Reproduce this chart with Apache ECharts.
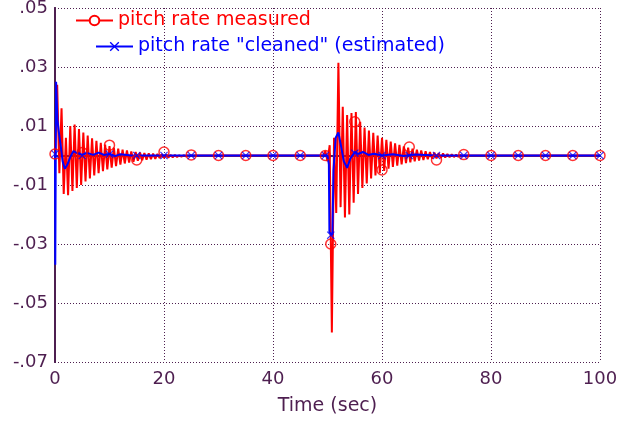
<!DOCTYPE html>
<html>
<head>
<meta charset="utf-8">
<title>pitch rate</title>
<script src="https://cdn.jsdelivr.net/npm/echarts@6/dist/echarts.min.js"></script>
<style>
  html, body { margin: 0; padding: 0; background: #fff; }
  #chart { width: 618px; height: 421px; }
</style>
</head>
<body>
<div id="chart"></div>
<script>
  const dt = 0.4;
  const measuredStart1 = 0;
  const measured1 = [
    0, 0.024, -0.006, 0.016, -0.013, 0.006, -0.0135, 0.010, -0.012, 0.0105,
    -0.011, 0.009, -0.010, 0.0078, -0.0088, 0.0068, -0.0078, 0.0058, -0.0068, 0.005,
    -0.006, 0.0043, -0.0053, 0.0037, -0.0047, 0.0032, -0.0041, 0.0027, -0.0036, 0.0023,
    -0.0031, 0.002, -0.0027, 0.0017, -0.0024, 0.0014, -0.0021, 0.0012, -0.0018, 0.001,
    -0.0016, 0.0008, -0.0014, 0.0007, -0.0012, 0.0006, -0.0011, 0.0005, -0.0009, 0.0004,
    -0.0008, 0.0003, -0.0007, 0.0002, -0.0006, 0.0002, -0.0005, 0.0001, -0.0004, 0.0001,
    -0.0003, 0
  ];
  const measuredStart2 = 49.2;
  const measured2 = [
    0, 0.0015, -0.002, 0.0035, -0.060, 0.006, -0.0195, 0.0314, -0.0175, 0.0165,
    -0.021, 0.0137, -0.020, 0.0144, -0.016, 0.0147, -0.013, 0.0114, -0.011, 0.0095,
    -0.0095, 0.0085, -0.0078, 0.0077, -0.0068, 0.0068, -0.0060, 0.0060, -0.0052, 0.0053,
    -0.0045, 0.0047, -0.0039, 0.0041, -0.0034, 0.0036, -0.0030, 0.0031, -0.0026, 0.0027,
    -0.0023, 0.0023, -0.0020, 0.0020, -0.0017, 0.0017, -0.0015, 0.0014, -0.0013, 0.0012,
    -0.0011, 0.0010, -0.0010, 0.0008, -0.0008, 0.0007, -0.0007, 0.0005, -0.0006, 0.0004,
    -0.0005, 0.0003, -0.0004, 0.0002, -0.0003, 0
  ];

  // "cleaned" estimate
  const cleanedT = [0, 0.05, 0.2, 0.45, 0.7, 1.0, 1.4, 1.8, 2.3, 2.8,
    3.4, 4.2, 5.0, 6.0, 7.0, 8.0, 9.0, 10.0, 11.0, 12.0,
    14.0, 50.0, 50.25, 50.35, 50.9, 51.1, 51.5, 52.0, 52.5, 53.0,
    53.6, 54.2, 55.0, 55.6, 56.5, 57.5, 58.5, 60.0, 62.0, 64.0,
    66.0, 70.0, 100];
  const cleanedV = [0, -0.037, 0.025, 0.012, 0.008, 0.004, -0.002, -0.0045, -0.003, -0.0005,
    0.0015, 0.0006, 0.0003, 0.0008, 0.0002, 0.001, 0.0002, 0.0006, -0.0002, 0.0004,
    0, 0, -0.003, -0.026, -0.027, -0.005, 0.006, 0.0078, 0.003, -0.002,
    -0.0042, -0.001, 0.0012, 0.0005, 0.0012, 0.0002, 0.0006, 0, 0.0004, -0.0002,
    0.0003, 0, 0];

  // marker positions
  const markT = [0, 5, 10, 15, 20, 25, 30, 35, 40, 45, 49.6, 50.6, 55, 60, 65, 70, 75, 80, 85, 90, 95, 100];
  const redMarkV = [0.0005, 0.001, 0.0035, -0.0015, 0.0012, 0.0002, 0, 0, 0, 0, 0, -0.030,
    0.0114, -0.0049, 0.0029, -0.0015, 0.0003, 0, 0, 0, 0, 0];
  const blueMarkV = [0.0005, 0, 0.0004, 0, 0, 0, 0, 0, 0, 0, 0, -0.027,
    0.0008, 0, 0, 0, 0, 0, 0, 0, 0, 0];

  const xTicks = [0, 100, 20];        // min, max, interval
  const yTicks = [-0.07, 0.05, 0.02];

  const purple = '#4e1f50';
  const red = '#ff0000';
  const blue = '#0000ff';
  const crossPath = 'path://M0,1L1,0L5,4L9,0L10,1L6,5L10,9L9,10L5,6L1,10L0,9L4,5Z';

  let redData = [];
  measured1.forEach(function (v, i) { redData.push([measuredStart1 + i * dt, v]); });
  measured2.forEach(function (v, i) { redData.push([measuredStart2 + i * dt, v]); });
  redData.push([100, 0]);

  const blueData = cleanedT.map(function (t, i) { return [t, cleanedV[i]]; });
  const redMarks = markT.map(function (t, i) { return [t, redMarkV[i]]; });
  const blueMarks = markT.map(function (t, i) { return [t, blueMarkV[i]]; });

  const font = 'DejaVu Sans';
  const myChart = echarts.init(document.getElementById('chart'));

  let option = {
    backgroundColor: '#fff',
    animation: false,
    grid: { left: 55, right: 18, top: 8, bottom: 59, outerBoundsMode: 'none' },
    legend: [
      {
        data: ['pitch rate measured'],
        left: 75, top: 11, padding: 0,
        itemWidth: 37, itemHeight: 12,
        textStyle: { color: red, fontFamily: font, fontSize: 19 }
      },
      {
        data: ['pitch rate "cleaned" (estimated)'],
        left: 95, top: 37, padding: 0,
        itemWidth: 37, itemHeight: 12,
        textStyle: { color: blue, fontFamily: font, fontSize: 19 }
      }
    ],
    xAxis: [
      {
        type: 'value', min: xTicks[0], max: xTicks[1], interval: xTicks[2],
        name: 'Time (sec)', nameLocation: 'middle', nameGap: 35,
        nameTextStyle: { color: purple, fontFamily: font, fontSize: 19 },
        axisLine: { lineStyle: { color: purple, width: 2 } },
        axisTick: { show: false },
        axisLabel: { color: purple, fontFamily: font, fontSize: 18, margin: 8 },
        splitLine: { lineStyle: { color: purple, type: [1, 2], width: 1 } }
      },
      {
        type: 'value', position: 'top', min: xTicks[0], max: xTicks[1],
        axisLine: { show: true, lineStyle: { color: '#2a2a7a', width: 2 } },
        axisTick: { show: false }, axisLabel: { show: false }, splitLine: { show: false }
      }
    ],
    yAxis: [
      {
        type: 'value', min: yTicks[0], max: yTicks[1], interval: yTicks[2],
        axisLine: { show: true, lineStyle: { color: purple, width: 2 } },
        axisTick: { show: false },
        axisLabel: {
          color: purple, fontFamily: font, fontSize: 18, margin: 7,
          formatter: function (v) { return v.toFixed(2).replace('0.', '.'); }
        },
        splitLine: { lineStyle: { color: purple, type: [1, 2], width: 1 } }
      },
      {
        type: 'value', position: 'right', min: yTicks[0], max: yTicks[1],
        axisLine: { show: true, lineStyle: { color: purple, width: 2 } },
        axisTick: { show: false }, axisLabel: { show: false }, splitLine: { show: false }
      }
    ],
    series: [
      {
        name: 'pitch rate measured',
        type: 'line',
        data: redData,
        symbol: 'emptyCircle', symbolSize: 9, showSymbol: false,
        lineStyle: { color: red, width: 2 },
        itemStyle: { color: red },
        z: 2
      },
      {
        name: 'pitch rate "cleaned" (estimated)',
        type: 'line',
        data: blueData,
        symbol: crossPath, symbolSize: 9, showSymbol: false,
        lineStyle: { color: blue, width: 2 },
        itemStyle: { color: blue },
        z: 3
      },
      {
        name: 'measured marks',
        type: 'scatter',
        data: redMarks,
        symbol: 'circle', symbolSize: 10,
        itemStyle: { color: 'transparent', borderColor: red, borderWidth: 1.5 },
        z: 4
      },
      {
        name: 'cleaned marks',
        type: 'scatter',
        data: blueMarks,
        symbol: crossPath, symbolSize: 8,
        itemStyle: { color: blue },
        z: 5
      }
    ]
  };
  myChart.setOption(option);
</script>
</body>
</html>
